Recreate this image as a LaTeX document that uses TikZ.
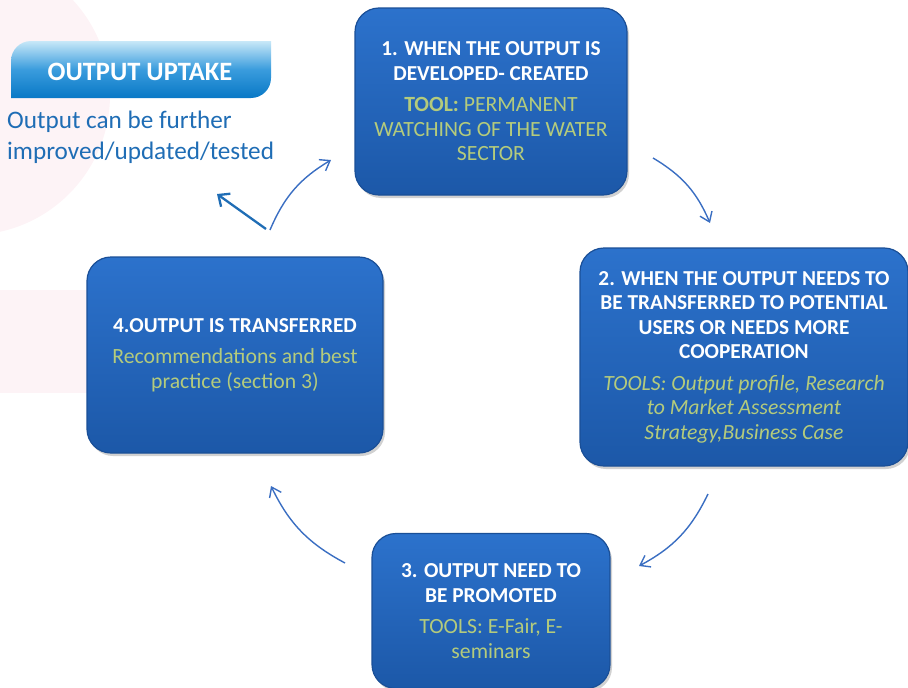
\documentclass[tikz,border=0pt]{standalone}
\usepackage{fontspec}
\setmainfont{Carlito}
\usetikzlibrary{arrows.meta,shadows}
\definecolor{boxtop}{HTML}{2C72CC}
\definecolor{boxbot}{HTML}{1C58A8}
\definecolor{boxline}{HTML}{1A4F97}
\definecolor{toolgreen}{HTML}{B4CB7C}
\definecolor{arrowblue}{HTML}{3A6EC2}
\definecolor{textblue}{HTML}{1F6DB5}
\definecolor{pinkbg}{HTML}{FDF3F6}
\definecolor{bantop}{HTML}{C8E8F8}
\definecolor{banmid}{HTML}{3A9CDD}
\definecolor{banbot}{HTML}{0878C6}
\tikzset{
  stagebox/.style={rectangle, rounded corners=24pt, top color=boxtop, bottom color=boxbot,
    draw=boxline, line width=1.2pt, inner sep=0pt, align=center, text=white,
    font=\fontsize{21.3}{24.5}\selectfont\bfseries,
    drop shadow={shadow xshift=2pt, shadow yshift=-3pt, opacity=0.3, fill=black!60}},
  cyclearrow/.style={draw=arrowblue, line width=1.4pt, -{Straight Barb[length=9pt,width=13pt,line width=1.4pt]}, bend left=18}
}
\newcommand{\toolfont}{\fontsize{21.7}{24.5}\selectfont\mdseries\color{toolgreen}}
\begin{document}
\begin{tikzpicture}[x=1pt,y=-1pt]
\useasboundingbox (0,0) rectangle (908,688);
% faint background shapes
\fill[pinkbg] (-30,95) circle[radius=140];
\fill[pinkbg] (0,290) rectangle (108,393);
% banner
\shade[top color=bantop, bottom color=banbot, middle color=banmid]
  (11,98) -- (11,61) arc[start angle=180,end angle=270,radius=20] -- (271,41) -- (271,78)
  arc[start angle=0,end angle=90,radius=20] -- cycle;
\node[text=white, font=\fontsize{26.5}{30}\selectfont\bfseries] (uptake) at (140,72) {OUTPUT UPTAKE};
\node[anchor=north west, align=left, text=textblue, inner sep=0pt,
  font=\fontsize{25.2}{31}\selectfont] (further) at (7,111) {Output can be further\\improved/updated/tested};
% stage boxes
\node[stagebox, minimum width=272pt, minimum height=187pt] (s1) at (491,101.5)
  {1. WHEN THE OUTPUT IS\\DEVELOPED- CREATED\\[7pt]
   {\toolfont\bfseries TOOL:\mdseries\ PERMANENT}\\
   {\toolfont WATCHING OF THE WATER}\\
   {\toolfont SECTOR}};
\node[stagebox, minimum width=328pt, minimum height=218pt] (s2) at (744,357)
  {2. WHEN THE OUTPUT NEEDS TO\\BE TRANSFERRED TO POTENTIAL\\USERS OR NEEDS MORE\\COOPERATION\\[7pt]
   {\toolfont\itshape TOOLS: Output profile, Research}\\
   {\toolfont\itshape to Market Assessment}\\
   {\toolfont\itshape Strategy,Business Case}};
\node[stagebox, minimum width=238pt, minimum height=155pt] (s3) at (491,611)
  {3. OUTPUT NEED TO\\BE PROMOTED\\[7pt]
   {\toolfont TOOLS: E-Fair, E-}\\
   {\toolfont seminars}};
\node[stagebox, minimum width=296pt, minimum height=196pt] (s4) at (235,355)
  {4.OUTPUT IS TRANSFERRED\\[7pt]
   {\toolfont Recommendations and best}\\
   {\toolfont practice (section 3)}};
% arrow end points
\coordinate (a1s) at (270,230);
\coordinate (a1e) at (331,160);
\coordinate (a2s) at (653,158);
\coordinate (a2e) at (710,223);
\coordinate (a3s) at (708,494);
\coordinate (a3e) at (639,566);
\coordinate (a4s) at (345,563);
\coordinate (a4e) at (271,486);
\coordinate (upS) at (266,229);
\coordinate (upE) at (217,194);
\draw[cyclearrow] (a1s) to (a1e);
\draw[cyclearrow] (a2s) to (a2e);
\draw[cyclearrow] (a3s) to (a3e);
\draw[cyclearrow] (a4s) to (a4e);
\draw[draw=textblue, line width=2.3pt, -{Straight Barb[length=9pt,width=16pt,line width=2.3pt]}] (upS) -- (upE);
\end{tikzpicture}
\end{document}
